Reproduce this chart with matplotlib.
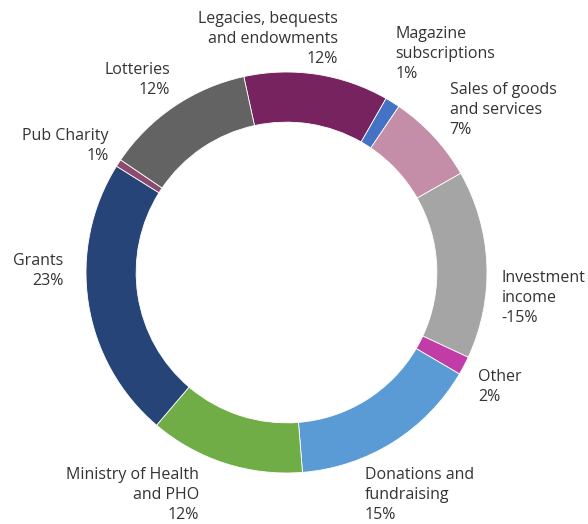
import numpy as np
import matplotlib.pyplot as plt

# Fuentes de ingreso (orden horario desde arriba)
categorias = ["Legacies, bequests\nand endowments", "Magazine\nsubscriptions",
              "Sales of goods\nand services", "Investment\nincome", "Other",
              "Donations and\nfundraising", "Ministry of Health\nand PHO",
              "Grants", "Pub Charity", "Lotteries"]
valores = [11.7, 1.2, 7.3, 15.2, 1.5, 15.3, 12.5, 22.7, 0.6, 12.1]
etiquetas_pct = ["12%", "1%", "7%", "-15%", "2%", "15%", "12%", "23%", "1%", "12%"]
colores = ["#76235F", "#4472C4", "#C48DA8", "#A5A5A5", "#C23CA8",
           "#5B9BD5", "#70AD47", "#264478", "#8B4A6E", "#636363"]

# desplazamiento de cada etiqueta (pixeles) y alineación
desplaz = [(21, 35), (3, 48), (16, 26), (15, -34), (14, -21),
           (-28, -53), (-26, -32), (-25, 32), (-10, 17), (-4, 26)]
alin = ["right", "left", "left", "left", "left",
        "left", "right", "right", "right", "right"]

fig = plt.figure(figsize=(5.88, 5.24), dpi=100)
ax = fig.add_axes([86 / 588, 51 / 524, 401 / 588, 401 / 524])

cunas, _ = ax.pie(valores, colors=colores, startangle=102.3, counterclock=False,
                  radius=1, wedgeprops=dict(width=0.25, edgecolor="white", linewidth=0.6))
ax.set_xlim(-1, 1)
ax.set_ylim(-1, 1)
ax.set_aspect("equal")
ax.axis("off")

for cuna, cat, pct, (dx, dy), ha in zip(cunas, categorias, etiquetas_pct, desplaz, alin):
    ang = np.deg2rad((cuna.theta1 + cuna.theta2) / 2)
    ax.annotate(f"{cat}\n{pct}", xy=(np.cos(ang), np.sin(ang)), xytext=(dx, dy),
                textcoords="offset pixels", ha=ha, va="center", multialignment=ha,
                fontsize=11.5, family=["Open Sans", "DejaVu Sans"], color="#333333",
                linespacing=1.33, annotation_clip=False)

fig.savefig("out.png", dpi=100)
